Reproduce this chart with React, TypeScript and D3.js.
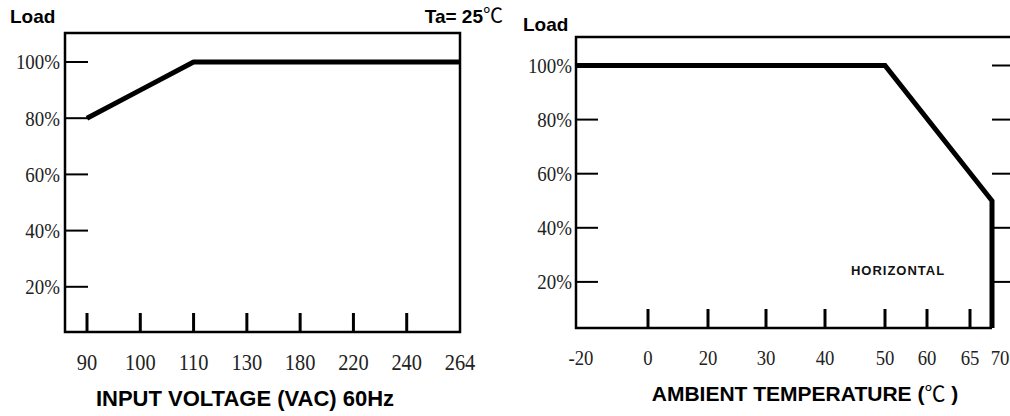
import React from "react";
import * as d3 from "d3";

// ---- data ----
const VOLT_CATS = ["90", "100", "110", "130", "180", "220", "240", "264"];
const VOLT_LOAD = [80, 90, 100, 100, 100, 100, 100, 100];
const LOAD_TICKS = [20, 40, 60, 80, 100];
const TEMP_TICKS = [-20, 0, 20, 30, 40, 50, 60, 65, 70];
const TEMP_CURVE_T = [-20, 50, 70];
const TEMP_CURVE_LOAD = [100, 100, 50];

// ---- layout (non-uniform temperature axis positions, px) ----
const TEMP_PX = [577, 648, 708, 766, 825, 885, 927, 970, 992];

const SANS = "Liberation Sans, Arial, sans-serif";
const SERIF = "Liberation Serif, Times New Roman, serif";
const CJK = "Noto Sans CJK SC, sans-serif";

export default function App() {
  // Left chart
  const L = { left: 65, right: 460, top: 33, bottom: 332 };
  const xV = d3.scalePoint<string>().domain(VOLT_CATS).range([87, 460]);
  const yL = d3.scaleLinear().domain([0, 100]).range([343, 62]);
  const lineL = d3
    .line<number>()
    .x((_, i) => xV(VOLT_CATS[i]) as number)
    .y((d) => yL(d));

  // Right chart
  const R = { left: 576, right: 1012, top: 37, bottom: 328 };
  const xT = d3.scaleLinear().domain(TEMP_TICKS).range(TEMP_PX);
  const yR = d3.scaleLinear().domain([0, 100]).range([336, 65.5]);
  const curvePts: [number, number][] = TEMP_CURVE_T.map((t, i) => [xT(t), yR(TEMP_CURVE_LOAD[i])]);
  const lastT = TEMP_CURVE_T[TEMP_CURVE_T.length - 1];
  curvePts.push([xT(lastT), R.bottom]);
  const curveR = d3.line()(curvePts) as string;

  return (
    <svg
      width={1010}
      height={416}
      style={{ position: "absolute", left: 0, top: 0, background: "#fff" }}
    >
      <rect x={0} y={0} width={1010} height={416} fill="#fff" />
      {/* ===== Left chart ===== */}
      <text x={10} y={23} fontFamily={SANS} fontWeight="bold" fontSize={19}>
        Load
      </text>
      <text x={503} y={23} fontFamily={SANS} fontWeight="bold" fontSize={19} textAnchor="end">
        Ta= 25<tspan fontFamily={CJK} fontWeight="normal" fontSize={20}>℃</tspan>
      </text>
      {/* frame */}
      <path
        d={`M${L.left},${L.top}H${L.right}V${L.bottom}H${L.left}Z`}
        fill="none"
        stroke="#000"
        strokeWidth={2.5}
      />
      {/* y ticks + labels */}
      {LOAD_TICKS.map((v) => (
        <g key={"ly" + v}>
          <line x1={L.left} x2={L.left + 23} y1={yL(v)} y2={yL(v)} stroke="#000" strokeWidth={2} />
          <text
            transform={`translate(60,${yL(v)}) scale(0.9,1)`}
            textAnchor="end"
            dominantBaseline="central"
            fontFamily={SERIF}
            fontSize={21}
            fill="#222"
          >
            {v}%
          </text>
        </g>
      ))}
      {/* x ticks + labels */}
      {VOLT_CATS.map((c, i) => (
        <g key={"lx" + c}>
          {i < VOLT_CATS.length - 1 && (
            <line x1={xV(c)} x2={xV(c)} y1={313} y2={L.bottom} stroke="#000" strokeWidth={3} />
          )}
          <text
            transform={`translate(${xV(c)},370) scale(0.85,1)`}
            textAnchor="middle"
            fontFamily={SERIF}
            fontSize={24}
            fill="#222"
          >
            {c}
          </text>
        </g>
      ))}
      {/* curve */}
      <path d={lineL(VOLT_LOAD) as string} fill="none" stroke="#000" strokeWidth={5} strokeLinejoin="round" />
      <text
        x={245}
        y={406}
        textAnchor="middle"
        fontFamily={SANS}
        fontWeight="bold"
        fontSize={22}
      >
        INPUT VOLTAGE (VAC) 60Hz
      </text>

      {/* ===== Right chart ===== */}
      <text x={523} y={31} fontFamily={SANS} fontWeight="bold" fontSize={19}>
        Load
      </text>
      {/* frame: top, left, bottom */}
      <path
        d={`M${R.right},${R.top}H${R.left}V${R.bottom}H${xT(lastT)}`}
        fill="none"
        stroke="#000"
        strokeWidth={2.5}
      />
      {LOAD_TICKS.map((v) => (
        <g key={"ry" + v}>
          <line x1={R.left} x2={R.left + 22} y1={yR(v)} y2={yR(v)} stroke="#000" strokeWidth={2} />
          <line x1={xT(lastT)} x2={xT(lastT) + 24} y1={yR(v)} y2={yR(v)} stroke="#000" strokeWidth={2} />
          <text
            transform={`translate(572,${yR(v)}) scale(0.9,1)`}
            textAnchor="end"
            dominantBaseline="central"
            fontFamily={SERIF}
            fontSize={21}
            fill="#222"
          >
            {v}%
          </text>
        </g>
      ))}
      {TEMP_TICKS.map((t, i) => (
        <g key={"rx" + t}>
          {i > 0 && i < TEMP_TICKS.length - 1 && (
            <line x1={xT(t)} x2={xT(t)} y1={309} y2={R.bottom} stroke="#000" strokeWidth={3} />
          )}
          <text
            transform={`translate(${xT(t) + (i === 0 ? 4 : i === TEMP_TICKS.length - 1 ? 8 : 0)},365) scale(0.85,1)`}
            textAnchor="middle"
            fontFamily={SERIF}
            fontSize={22}
            fill="#222"
          >
            {t}
          </text>
        </g>
      ))}
      <path d={curveR} fill="none" stroke="#000" strokeWidth={5} strokeLinejoin="miter" />
      <text
        x={898}
        y={275}
        textAnchor="middle"
        fontFamily={SANS}
        fontWeight="bold"
        fontSize={13}
        letterSpacing={1}
        fill="#111"
      >
        HORIZONTAL
      </text>
      <text
        x={805}
        y={401}
        textAnchor="middle"
        fontFamily={SANS}
        fontWeight="bold"
        fontSize={21}
      >
        AMBIENT TEMPERATURE (<tspan fontFamily={CJK} fontWeight="normal">℃</tspan> )
      </text>
    </svg>
  );
}
